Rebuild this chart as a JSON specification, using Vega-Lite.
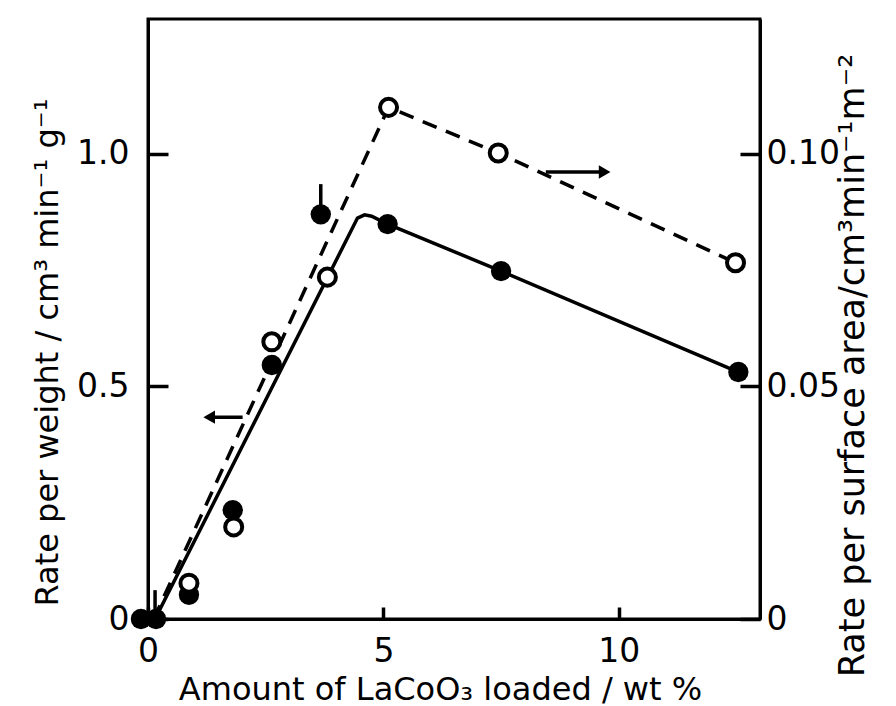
{
  "$schema": "https://vega.github.io/schema/vega-lite/v6.json",
  "width": 612,
  "height": 600,
  "autosize": "none",
  "padding": {"left": 148, "top": 19, "right": 136, "bottom": 87},
  "background": "white",
  "config": {
    "view": {"stroke": "black", "strokeWidth": 3},
    "axis": {
      "domainColor": "black", "domainWidth": 3, "tickColor": "black", "tickWidth": 3.5,
      "labelColor": "black", "titleColor": "black", "labelFont": "DejaVu Sans", "titleFont": "DejaVu Sans",
      "labelFontSize": 33, "titleFontSize": 32, "titleFontWeight": "normal", "grid": false,
      "labelFlush": false, "labelOverlap": false
    }
  },
  "datasets": {
    "pts": [
      {"s": "filled", "x": -0.15, "y": 0},
      {"s": "filled", "x": 0.17, "y": 0},
      {"s": "filled", "x": 0.87, "y": 0.052},
      {"s": "filled", "x": 1.8, "y": 0.234},
      {"s": "filled", "x": 2.63, "y": 0.546},
      {"s": "filled", "x": 3.67, "y": 0.87},
      {"s": "filled", "x": 5.09, "y": 0.849},
      {"s": "filled", "x": 7.5, "y": 0.748},
      {"s": "filled", "x": 12.54, "y": 0.531},
      {"s": "open", "x": 0.87, "y": 0.0077},
      {"s": "open", "x": 1.82, "y": 0.0198},
      {"s": "open", "x": 2.63, "y": 0.0596},
      {"s": "open", "x": 3.81, "y": 0.0735},
      {"s": "open", "x": 5.11, "y": 0.110},
      {"s": "open", "x": 7.44, "y": 0.1002},
      {"s": "open", "x": 12.48, "y": 0.0766},
      {"s": "wline", "x": 0.15, "y": 0},
      {"s": "wline", "x": 4.45, "y": 0.862},
      {"s": "wline", "x": 4.6, "y": 0.869},
      {"s": "wline", "x": 4.75, "y": 0.866},
      {"s": "wline", "x": 5.09, "y": 0.849},
      {"s": "wline", "x": 7.5, "y": 0.748},
      {"s": "wline", "x": 12.54, "y": 0.531},
      {"s": "aline", "x": 0.12, "y": 0},
      {"s": "aline", "x": 5.11, "y": 0.110},
      {"s": "aline", "x": 7.44, "y": 0.1002},
      {"s": "aline", "x": 12.48, "y": 0.0766},
      {"s": "bar", "x": 3.67, "y": 0.87, "y2": 0.935},
      {"s": "bar", "x": 0.15, "y": 0, "y2": 0.062},
      {"s": "arrowL", "x": 1.25, "x2": 2.01, "y": 0.434},
      {"s": "headL", "x": 1.3, "y": 0.434},
      {"s": "arrowR", "x": 8.45, "x2": 9.7, "y": 0.0961},
      {"s": "headR", "x": 9.7, "y": 0.0961}
    ]
  },
  "data": {"name": "pts"},
  "layer": [
    {
      "layer": [
        {
          "transform": [{"filter": "datum.s == 'wline'"}],
          "mark": {"type": "line", "color": "black", "strokeWidth": 3.5},
          "encoding": {
            "x": {"field": "x", "type": "quantitative", "scale": {"domain": [0, 13], "nice": false, "zero": false},
              "axis": {"values": [0, 5, 10], "tickSize": -12, "labelPadding": 28,
                "title": "Amount of LaCoO₃ loaded / wt %", "titleX": 292, "titleY": 70, "titleAlign": "center", "titleBaseline": "middle"}},
            "y": {"field": "y", "type": "quantitative", "scale": {"domain": [0, 1.29], "nice": false},
              "axis": {"values": [0, 0.5, 1], "tickSize": -20, "labelPadding": 39,
                "labelExpr": "datum.value == 0 ? '0' : format(datum.value, '.1f')",
                "title": "Rate per weight / cm³ min⁻¹ g⁻¹", "titleAngle": 270, "titleX": -101, "titleY": 333,
                "titleAlign": "center", "titleBaseline": "middle", "titleFontSize": 32}}
          }
        },
        {
          "transform": [{"filter": "datum.s == 'bar'"}],
          "mark": {"type": "rule", "color": "black", "strokeWidth": 3.5},
          "encoding": {
            "x": {"field": "x", "type": "quantitative"},
            "y": {"field": "y", "type": "quantitative"},
            "y2": {"field": "y2"}
          }
        },
        {
          "transform": [{"filter": "datum.s == 'arrowL'"}],
          "mark": {"type": "rule", "color": "black", "strokeWidth": 3.5},
          "encoding": {
            "x": {"field": "x", "type": "quantitative"},
            "x2": {"field": "x2"},
            "y": {"field": "y", "type": "quantitative"}
          }
        },
        {
          "transform": [{"filter": "datum.s == 'headL'"}],
          "mark": {"type": "point", "shape": "triangle-left", "filled": true, "color": "black", "opacity": 1, "size": 180},
          "encoding": {
            "x": {"field": "x", "type": "quantitative"},
            "y": {"field": "y", "type": "quantitative"}
          }
        },
        {
          "transform": [{"filter": "datum.s == 'filled'"}],
          "mark": {"type": "circle", "color": "black", "opacity": 1, "size": 415},
          "encoding": {
            "x": {"field": "x", "type": "quantitative"},
            "y": {"field": "y", "type": "quantitative"}
          }
        }
      ]
    },
    {
      "layer": [
        {
          "transform": [{"filter": "datum.s == 'aline'"}],
          "mark": {"type": "line", "color": "black", "strokeWidth": 3.5, "strokeDash": [15, 10]},
          "encoding": {
            "x": {"field": "x", "type": "quantitative"},
            "y": {"field": "y", "type": "quantitative", "scale": {"domain": [0, 0.129], "nice": false},
              "axis": {"orient": "right", "values": [0, 0.05, 0.1], "tickSize": -20, "labelPadding": 26,
                "labelExpr": "datum.value == 0 ? '0' : format(datum.value, '.2f')",
                "title": "Rate per surface area/cm³min⁻¹m⁻²", "titleAngle": 270, "titleX": 92, "titleY": 346,
                "titleAlign": "center", "titleBaseline": "middle", "titleFontSize": 35}}
          }
        },
        {
          "transform": [{"filter": "datum.s == 'arrowR'"}],
          "mark": {"type": "rule", "color": "black", "strokeWidth": 3.5},
          "encoding": {
            "x": {"field": "x", "type": "quantitative"},
            "x2": {"field": "x2"},
            "y": {"field": "y", "type": "quantitative"}
          }
        },
        {
          "transform": [{"filter": "datum.s == 'headR'"}],
          "mark": {"type": "point", "shape": "triangle-right", "filled": true, "color": "black", "opacity": 1, "size": 180},
          "encoding": {
            "x": {"field": "x", "type": "quantitative"},
            "y": {"field": "y", "type": "quantitative"}
          }
        },
        {
          "transform": [{"filter": "datum.s == 'open'"}],
          "mark": {"type": "point", "shape": "circle", "filled": false, "fill": "white", "fillOpacity": 1, "stroke": "black", "strokeWidth": 4, "opacity": 1, "size": 290},
          "encoding": {
            "x": {"field": "x", "type": "quantitative"},
            "y": {"field": "y", "type": "quantitative"}
          }
        }
      ]
    }
  ],
  "resolve": {"scale": {"y": "independent"}}
}
